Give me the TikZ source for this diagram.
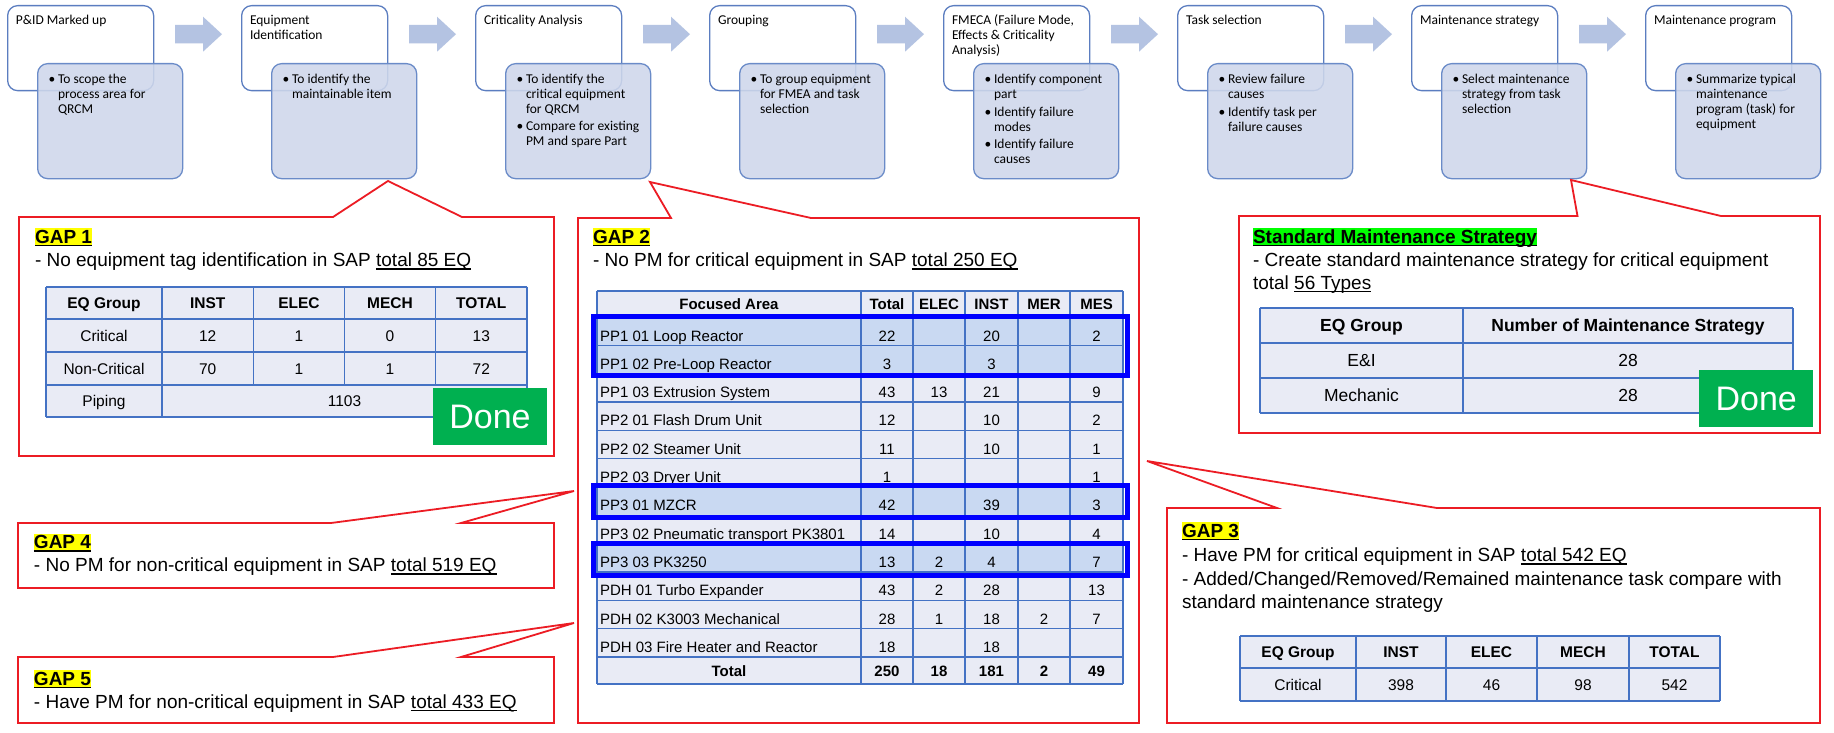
\documentclass[tikz,border=0pt]{standalone}
\usepackage{fontspec}
\setmainfont{Liberation Sans}
\newfontfamily\calfont{Carlito}
\definecolor{boxline}{HTML}{5B7DC0}
\definecolor{bluefill}{HTML}{CFD7EB}
\definecolor{blueline}{HTML}{6A8BC8}
\definecolor{arrowc}{HTML}{B4C3E2}
\definecolor{calred}{HTML}{EC1C24}
\definecolor{tabline}{HTML}{4472C4}
\definecolor{tabfill}{HTML}{E9EBF5}
\definecolor{hirow}{HTML}{C9D9F2}
\definecolor{strongblue}{HTML}{0000FF}
\definecolor{donegreen}{HTML}{00B050}
\definecolor{hlyellow}{HTML}{FFFF00}
\definecolor{hlgreen}{HTML}{00FF00}
\newcommand\fTop{\calfont\fontsize{13.5}{15}\selectfont}
\newcommand\fMain{\fontsize{19}{22}\selectfont}
\newcommand\fTab{\fontsize{15.5}{18}\selectfont}
\newcommand\fTabR{\fontsize{15}{18}\selectfont}
\newcommand\fStd{\fontsize{17.5}{20}\selectfont}
\newcommand\fDone{\fontsize{34}{38}\selectfont}
\newcommand\myul[1]{\setbox0\hbox{#1}\rlap{\rule[-3pt]{\wd0}{1.3pt}}\box0}
\newcommand\myhl[2]{\setbox0\hbox{#2}\rlap{\textcolor{#1}{\rule[-3.3pt]{\wd0}{18pt}}}\rlap{\rule[-3pt]{\wd0}{1.3pt}}\box0}
\newcounter{tn}
\def\dashmark{-}
\newcommand\tline[3][]{\stepcounter{tn}\node[txt,#1] (tx\arabic{tn}) at (#2) {#3};}
\newcommand\tabcell[4][]{\edef\tmp{#4}\ifx\tmp\dashmark\else\stepcounter{tn}\node[ctxt,#1] (tx\arabic{tn}) at (#2,#3) {\tmp};\fi}
\newcommand\steptitle[3]{\pgfmathsetmacro\xx{16+234*#1}\tline{\xx,#2}{\fTop #3}}
\newcommand\stepbul[3]{\pgfmathsetmacro\xx{52+234*#1}\pgfmathsetmacro\xt{58+234*#1}\stepcounter{tn}\node[ctxt] (tx\arabic{tn}) at (\xx,#2) {\fTop\textbullet};\tline{\xt,#2}{\fTop #3}}
\newcommand\stepcont[3]{\pgfmathsetmacro\xt{58+234*#1}\tline{\xt,#2}{\fTop #3}}
\begin{document}
\begin{tikzpicture}[x=1pt,y=-1pt,
  txt/.style={anchor=base west,inner sep=0pt,outer sep=0pt},
  ctxt/.style={anchor=base,inner sep=0pt,outer sep=0pt},
  wbox/.style={draw=boxline,line width=1.3pt,fill=white,rounded corners=10pt,anchor=north west,minimum width=146pt,minimum height=85pt,inner sep=0pt},
  bbox/.style={draw=blueline,line width=1.3pt,fill=bluefill,fill opacity=0.88,rounded corners=10pt,anchor=north west,minimum width=145pt,minimum height=115pt,inner sep=0pt},
  callout/.style={draw=calred,line width=1.8pt,fill=white,line join=miter},
  grid/.style={draw=tabline,line width=1.6pt},
  thick/.style={draw=strongblue,line width=5pt},
  done/.style={fill=donegreen,text=white,font=\fDone,inner sep=0pt,anchor=north west,minimum width=113.5pt,minimum height=57pt}]
\useasboundingbox (0,0) rectangle (1834,733);
\fill[white] (0,0) rectangle (1834,733);
% ---------- process row ----------
\foreach \i in {0,...,7}{
  \pgfmathsetmacro\wx{7+234*\i}
  \node[wbox] (w\i) at (\wx,5) {};
}
\foreach \i in {0,...,7}{
  \pgfmathsetmacro\bx{37+234*\i}
  \node[bbox] (b\i) at (\bx,63) {};
}
\foreach \i in {0,...,6}{
  \pgfmathsetmacro\ax{175+234*\i}
  \fill[arrowc] (\ax,25) -- ++(28,0) -- ++(0,-8.3) -- ++(19,17.5) -- ++(-19,17.5) -- ++(0,-8.3) -- ++(-28,0) -- cycle;
}
\steptitle{0}{25}{P\&ID Marked up}
\stepbul{0}{84}{To scope the}
\stepcont{0}{98.7}{process area for}
\stepcont{0}{113.4}{QRCM}
\steptitle{1}{25}{Equipment}
\steptitle{1}{39.7}{Identification}
\stepbul{1}{84}{To identify the}
\stepcont{1}{98.7}{maintainable item}
\steptitle{2}{25}{Criticality Analysis}
\stepbul{2}{84}{To identify the}
\stepcont{2}{98.7}{critical equipment}
\stepcont{2}{113.4}{for QRCM}
\stepbul{2}{131}{Compare for existing}
\stepcont{2}{145.7}{PM and spare Part}
\steptitle{3}{25}{Grouping}
\stepbul{3}{84}{To group equipment}
\stepcont{3}{98.7}{for FMEA and task}
\stepcont{3}{113.4}{selection}
\steptitle{4}{25}{FMECA (Failure Mode,}
\steptitle{4}{39.7}{Effects \& Criticality}
\steptitle{4}{54.4}{Analysis)}
\stepbul{4}{84}{Identify component}
\stepcont{4}{98.7}{part}
\stepbul{4}{116.4}{Identify failure}
\stepcont{4}{131.1}{modes}
\stepbul{4}{148.8}{Identify failure}
\stepcont{4}{163.5}{causes}
\steptitle{5}{25}{Task selection}
\stepbul{5}{84}{Review failure}
\stepcont{5}{98.7}{causes}
\stepbul{5}{116.4}{Identify task per}
\stepcont{5}{131.1}{failure causes}
\steptitle{6}{25}{Maintenance strategy}
\stepbul{6}{84}{Select maintenance}
\stepcont{6}{98.7}{strategy from task}
\stepcont{6}{113.4}{selection}
\steptitle{7}{25}{Maintenance program}
\stepbul{7}{84}{Summarize typical}
\stepcont{7}{98.7}{maintenance}
\stepcont{7}{113.4}{program (task) for}
\stepcont{7}{128.1}{equipment}
% ---------- callouts ----------
\draw[callout] (19,217) -- (333,217) -- (388,181) -- (462,217) -- (554,217) -- (554,456) -- (19,456) -- cycle;
\draw[callout] (578,218) -- (671,218) -- (650,182) -- (811,218) -- (1139,218) -- (1139,723) -- (578,723) -- cycle;
\draw[callout] (1239,216) -- (1577.5,216) -- (1571,180) -- (1721,216) -- (1820,216) -- (1820,433) -- (1239,433) -- cycle;
\draw[callout] (1167,508) -- (1277,508) -- (1147,461) -- (1437,508) -- (1820,508) -- (1820,723) -- (1167,723) -- cycle;
\draw[callout] (18,523) -- (331,523) -- (574,491) -- (461,523) -- (554,523) -- (554,588) -- (18,588) -- cycle;
\draw[callout] (18,657) -- (333,657) -- (574,623) -- (461,657) -- (554,657) -- (554,723) -- (18,723) -- cycle;
% ---------- GAP 1 ----------
\tline{35,243}{\fMain\bfseries\myhl{hlyellow}{GAP 1}}
\tline{35,266.7}{\fMain - No equipment tag identification in SAP \myul{total 85 EQ}}
\fill[tabfill] (46,286.7) rectangle (527,417);
\foreach \yy in {286.7,319,352,385,417} \draw[grid] (46,\yy) -- (527,\yy);
\foreach \xx in {46,162,527} \draw[grid] (\xx,286.7) -- (\xx,417);
\foreach \xx in {253.5,344.5,435.5} \draw[grid] (\xx,286.7) -- (\xx,385);
\tabcell[font=\fTab\bfseries]{104}{308.4}{EQ Group}
\tabcell[font=\fTab\bfseries]{207.75}{308.4}{INST}
\tabcell[font=\fTab\bfseries]{299}{308.4}{ELEC}
\tabcell[font=\fTab\bfseries]{390}{308.4}{MECH}
\tabcell[font=\fTab\bfseries]{481.25}{308.4}{TOTAL}
\tabcell[font=\fTab]{104}{341}{Critical}
\tabcell[font=\fTab]{207.75}{341}{12}
\tabcell[font=\fTab]{299}{341}{1}
\tabcell[font=\fTab]{390}{341}{0}
\tabcell[font=\fTab]{481.25}{341}{13}
\tabcell[font=\fTab]{104}{374}{Non-Critical}
\tabcell[font=\fTab]{207.75}{374}{70}
\tabcell[font=\fTab]{299}{374}{1}
\tabcell[font=\fTab]{390}{374}{1}
\tabcell[font=\fTab]{481.25}{374}{72}
\tabcell[font=\fTab]{104}{406.5}{Piping}
\tabcell[font=\fTab]{344.5}{406.5}{1103}
\node[done] (done1) at (433,388) {Done};
% ---------- GAP 2 ----------
\tline{593,243}{\fMain\bfseries\myhl{hlyellow}{GAP 2}}
\tline{593,266.7}{\fMain - No PM for critical equipment in SAP \myul{total 250 EQ}}
\fill[tabfill] (597,291) rectangle (1123,684);
\foreach \k in {0,1,6,8}{
  \pgfmathsetmacro\ya{317+28.33*\k}
  \pgfmathsetmacro\yz{317+28.33*(\k+1)}
  \fill[hirow] (597,\ya) rectangle (1123,\yz);
}
\foreach \k in {0,...,12}{
  \pgfmathsetmacro\ya{317+28.33*\k}
  \draw[grid] (597,\ya) -- (1123,\ya);
}
\draw[grid] (597,291) -- (1123,291);
\draw[grid] (597,684) -- (1123,684);
\foreach \xx in {597,861,913,965,1018,1070,1123} \draw[grid] (\xx,291) -- (\xx,684);
\tabcell[font=\fTabR\bfseries]{729}{309.5}{Focused Area}
\tabcell[font=\fTabR\bfseries]{887}{309.5}{Total}
\tabcell[font=\fTabR\bfseries]{939}{309.5}{ELEC}
\tabcell[font=\fTabR\bfseries]{991.5}{309.5}{INST}
\tabcell[font=\fTabR\bfseries]{1044}{309.5}{MER}
\tabcell[font=\fTabR\bfseries]{1096.5}{309.5}{MES}
\foreach \k/\nm/\va/\vb/\vc/\vd/\ve in {
  0/PP1 01 Loop Reactor/22/-/20/-/2,
  1/PP1 02 Pre-Loop Reactor/3/-/3/-/-,
  2/PP1 03 Extrusion System/43/13/21/-/9,
  3/PP2 01 Flash Drum Unit/12/-/10/-/2,
  4/PP2 02 Steamer Unit/11/-/10/-/1,
  5/PP2 03 Dryer Unit/1/-/-/-/1,
  6/PP3 01 MZCR/42/-/39/-/3,
  7/PP3 02 Pneumatic transport PK3801/14/-/10/-/4,
  8/PP3 03 PK3250/13/2/4/-/7,
  9/PDH 01 Turbo Expander/43/2/28/-/13,
  10/PDH 02 K3003 Mechanical/28/1/18/2/7,
  11/PDH 03 Fire Heater and Reactor/18/-/18/-/-}{
  \pgfmathsetmacro\yb{341+28.33*\k}
  \tline[font=\fTabR]{600,\yb}{\nm}
  \tabcell[font=\fTabR]{887}{\yb}{\va}
  \tabcell[font=\fTabR]{939}{\yb}{\vb}
  \tabcell[font=\fTabR]{991.5}{\yb}{\vc}
  \tabcell[font=\fTabR]{1044}{\yb}{\vd}
  \tabcell[font=\fTabR]{1096.5}{\yb}{\ve}
}
\tabcell[font=\fTabR\bfseries]{729}{676}{Total}
\tabcell[font=\fTabR\bfseries]{887}{676}{250}
\tabcell[font=\fTabR\bfseries]{939}{676}{18}
\tabcell[font=\fTabR\bfseries]{991.5}{676}{181}
\tabcell[font=\fTabR\bfseries]{1044}{676}{2}
\tabcell[font=\fTabR\bfseries]{1096.5}{676}{49}
\draw[thick] (593,316) rectangle (1127,375.5);
\draw[thick] (593,485.5) rectangle (1127,517.5);
\draw[thick] (593,543) rectangle (1127,575);
% ---------- Standard maintenance strategy ----------
\tline{1253,243}{\fMain\bfseries\myhl{hlgreen}{Standard Maintenance Strategy}}
\tline{1253,266}{\fMain - Create standard maintenance strategy for critical equipment}
\tline{1253,289}{\fMain total \myul{56 Types}}
\fill[tabfill] (1260,308) rectangle (1793,413);
\foreach \yy in {308,343,378,413} \draw[grid] (1260,\yy) -- (1793,\yy);
\foreach \xx in {1260,1463,1793} \draw[grid] (\xx,308) -- (\xx,413);
\tabcell[font=\fStd\bfseries]{1361.5}{331.8}{EQ Group}
\tabcell[font=\fStd\bfseries]{1628}{331.8}{Number of Maintenance Strategy}
\tabcell[font=\fStd]{1361.5}{366.8}{E\&I}
\tabcell[font=\fStd]{1628}{366.8}{28}
\tabcell[font=\fStd]{1361.5}{401.8}{Mechanic}
\tabcell[font=\fStd]{1628}{401.8}{28}
\node[done,minimum width=114pt] (done2) at (1699,370) {Done};
% ---------- GAP 3 ----------
\tline{1182,537}{\fMain\bfseries\myhl{hlyellow}{GAP 3}}
\tline{1182,561.7}{\fMain - Have PM for critical equipment in SAP \myul{total 542 EQ}}
\tline{1182,585}{\fMain - Added/Changed/Removed/Remained maintenance task compare with}
\tline{1182,608.3}{\fMain standard maintenance strategy}
\fill[tabfill] (1240,636) rectangle (1720,701);
\foreach \yy in {636,668,701} \draw[grid] (1240,\yy) -- (1720,\yy);
\foreach \xx in {1240,1356,1446,1537,1629,1720} \draw[grid] (\xx,636) -- (\xx,701);
\tabcell[font=\fTab\bfseries]{1298}{657.5}{EQ Group}
\tabcell[font=\fTab\bfseries]{1401}{657.5}{INST}
\tabcell[font=\fTab\bfseries]{1491.5}{657.5}{ELEC}
\tabcell[font=\fTab\bfseries]{1583}{657.5}{MECH}
\tabcell[font=\fTab\bfseries]{1674.5}{657.5}{TOTAL}
\tabcell[font=\fTab]{1298}{690}{Critical}
\tabcell[font=\fTab]{1401}{690}{398}
\tabcell[font=\fTab]{1491.5}{690}{46}
\tabcell[font=\fTab]{1583}{690}{98}
\tabcell[font=\fTab]{1674.5}{690}{542}
% ---------- GAP 4 / GAP 5 ----------
\tline{34,548.7}{\fMain\bfseries\myhl{hlyellow}{GAP 4}}
\tline{34,571.7}{\fMain - No PM for non-critical equipment in SAP \myul{total 519 EQ}}
\tline{34,685}{\fMain\bfseries\myhl{hlyellow}{GAP 5}}
\tline{34,708.3}{\fMain - Have PM for non-critical equipment in SAP \myul{total 433 EQ}}
\end{tikzpicture}
\end{document}
